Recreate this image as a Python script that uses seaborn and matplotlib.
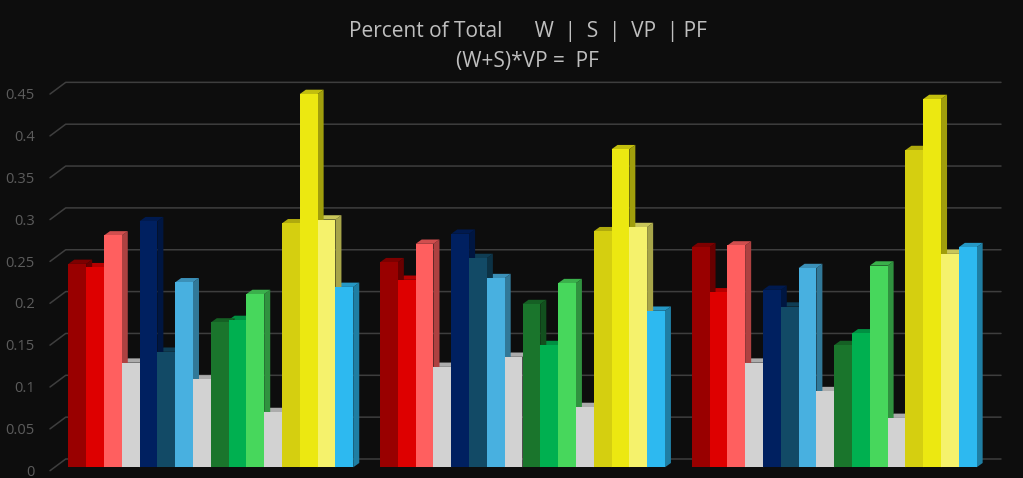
import pandas as pd
import seaborn as sns
import matplotlib.pyplot as plt
from matplotlib.patches import Polygon
from matplotlib.transforms import Affine2D

grupos = ['G1', 'G2', 'G3']
series = ['W1', 'S1', 'VP1', 'PF1', 'W2', 'S2', 'VP2', 'PF2',
          'W3', 'S3', 'VP3', 'PF3', 'W4', 'S4', 'VP4', 'PF4']

g1 = [.243, .239, .277, .125, .294, .138, .221, .105, .173, .176, .207, .066, .2915, .446, .296, .2155]
g2 = [.245, .224, .267, .120, .279, .250, .226, .132, .195, .146, .220, .072, .282, .380, .287, .187]
g3 = [.263, .209, .265, .125, .212, .192, .238, .091, .146, .160, .241, .059, .379, .440, .255, .263]

colores = ['#990000', '#DE0000', '#FF5F5F', '#D2D2D2', '#002060', '#124A66', '#48B0E0', '#D2D2D2',
           '#1A752C', '#00B050', '#47D75C', '#D2D2D2', '#D5CF10', '#ECE811', '#F5F26C', '#2DB9F0']

ticks = [0, .05, .1, .15, .2, .25, .3, .35, .4, .45]
tick_labels = ['0', '0.05', '0.1', '0.15', '0.2', '0.25', '0.3', '0.35', '0.4', '0.45']

filas = []
for grupo, valores in zip(grupos, [g1, g2, g3]):
    for serie, valor in zip(series, valores):
        filas.append({'grupo': grupo, 'serie': serie, 'valor': valor})
df = pd.DataFrame(filas)

fondo = '#0D0D0D'
sns.set_theme(style='dark', rc={'axes.facecolor': fondo, 'figure.facecolor': fondo})
plt.rcParams['font.family'] = ['Open Sans', 'DejaVu Sans']

W, H = 1023, 478
fig = plt.figure(figsize=(W / 100, H / 100), dpi=100)

# escala en pixeles: un grupo = 311.7 px, 1.0 en y = 837 px
px_x = 311.7
px_y = 837
centro = 210.8
base = 467.3
izq, der, arriba = 50, 1001, 75
ax = fig.add_axes([izq / W, (H - base) / H, (der - izq) / W, (base - arriba) / H])

sns.barplot(data=df, x='grupo', y='valor', hue='serie', order=grupos, hue_order=series,
            palette=colores, saturation=1, width=0.914, gap=0, linewidth=0, legend=False,
            ax=ax, zorder=3)

ax.set_xlim((izq - centro) / px_x, (der - centro) / px_x)
ax.set_ylim(0, (base - arriba) / px_y)
ax.set_xticks([])
ax.set_xlabel('')
ax.set_ylabel('')
ax.grid(False)
sns.despine(ax=ax, left=True, bottom=True)

# lineas de fondo y diagonal de la pared (3D falso)
x0, x1 = ax.get_xlim()
dx_pared = 15.7 / px_x
dy_frente = -3.4 / px_y
dy_fondo = 8.3 / px_y
gris = '#3E3E3E'
for t in ticks:
    ax.plot([x0, x0 + dx_pared, x1], [t + dy_frente, t + dy_fondo, t + dy_fondo],
            color=gris, lw=1.1, clip_on=False, zorder=1)

# caras lateral y superior de cada barra, de derecha a izquierda
dx = 6 / px_x
dy = 4.3 / px_y
barras = sorted(ax.patches, key=lambda b: -b.get_x())
for i, b in enumerate(barras):
    xa = b.get_x()
    xb = xa + b.get_width()
    h = b.get_height()
    r, g, bl, _ = b.get_facecolor()
    lado = (r * .68, g * .68, bl * .68)
    techo = (r * .82, g * .82, bl * .82)
    ax.add_patch(Polygon([(xb, 0), (xb + dx, dy), (xb + dx, h + dy), (xb, h)], fc=lado, lw=0,
                         zorder=2 + i * 0.001, clip_on=False))
    ax.add_patch(Polygon([(xa, h), (xa + dx, h + dy), (xb + dx, h + dy), (xb, h)], fc=techo, lw=0,
                         zorder=2 + i * 0.001, clip_on=False))

ax.set_yticks(ticks)
ax.set_yticklabels(tick_labels)
ax.tick_params(axis='y', length=0, pad=10.8, labelsize=10.5, labelcolor='#5C5C5C')
for lab in ax.get_yticklabels():
    lab.set_transform(lab.get_transform() + Affine2D().translate(0, -3))

fig.text(527.5 / W, 1 - 31.5 / H, 'Percent of Total      W  |  S  |  VP  | PF', color='#BFBFBF',
         fontsize=15, ha='center', va='center')
fig.text(527.5 / W, 1 - 62 / H, '(W+S)*VP =  PF', color='#BFBFBF',
         fontsize=15, ha='center', va='center')

fig.savefig('out.png', dpi=100, facecolor=fondo)
